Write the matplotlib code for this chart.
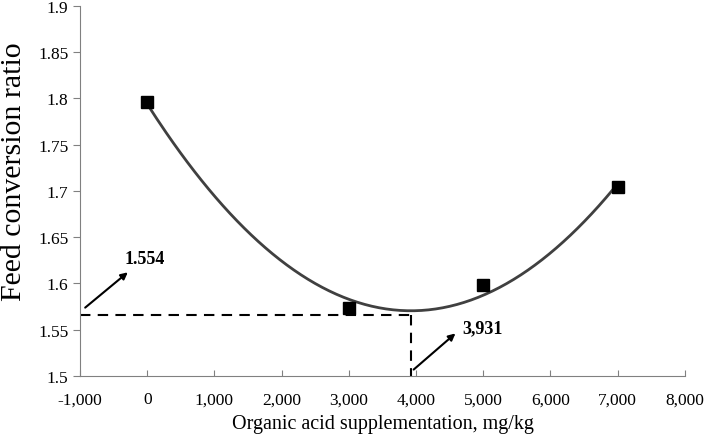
import numpy as np
import matplotlib.pyplot as plt

dose = [0, 3000, 5000, 7000]
fcr = [1.796, 1.574, 1.598, 1.704]
opt_dose = 3931
opt_fcr = 1.566
xticks = list(range(-1000, 8001, 1000))
yticks = [1.5, 1.55, 1.6, 1.65, 1.7, 1.75, 1.8, 1.85, 1.9]

plt.rcParams['font.family'] = ['Liberation Serif', 'DejaVu Serif']

fig = plt.figure(figsize=(7.05, 4.39), dpi=100)
ax = fig.add_axes([0.1135, 0.1412, 0.858, 0.843])

# quadratic trendline
coef = np.polyfit(dose, fcr, 2)
xs = np.linspace(0, 7000, 200)
ax.plot(xs, np.polyval(coef, xs), color='#404040', lw=2, zorder=2)
ax.plot(dose, fcr, 's', color='black', ms=8, zorder=3)

ax.plot([-1000, opt_dose], [opt_fcr, opt_fcr], '--', color='black', lw=1.5, dashes=(5, 3.5))
ax.plot([opt_dose, opt_dose], [opt_fcr, 1.5], '--', color='black', lw=1.5, dashes=(5, 3.5))

ax.annotate('', xy=(-257, 1.614), xytext=(-955, 1.572),
            arrowprops=dict(arrowstyle='-|>', color='black', lw=1.5, mutation_scale=10))
ax.text(-331, 1.627, '1.554', fontsize=13, fontweight='bold', va='center', ha='left')
ax.annotate('', xy=(4617, 1.548), xytext=(3933, 1.505),
            arrowprops=dict(arrowstyle='-|>', color='black', lw=1.5, mutation_scale=10))
ax.text(4691, 1.552, '3,931', fontsize=13, fontweight='bold', va='center', ha='left')

ax.set_xlim(-1000, 8000)
ax.set_ylim(1.5, 1.9)
ax.set_xticks(xticks)
ax.set_xticklabels(['{:,}'.format(v) for v in xticks])
ax.set_yticks(yticks)
ax.set_yticklabels(['{:g}'.format(v) for v in yticks])
ax.tick_params(axis='x', direction='in', length=4, color='#808080', labelsize=12.5, pad=11)
ax.tick_params(axis='y', direction='out', length=5, color='#808080', labelsize=12.5)
for s in ['top', 'right']:
    ax.spines[s].set_visible(False)
for s in ['left', 'bottom']:
    ax.spines[s].set_color('#808080')

ax.set_xlabel('Organic acid supplementation, mg/kg', fontsize=14.5, labelpad=5)
fig.text(0.001, 0.608, 'Feed conversion ratio', fontsize=21.5, rotation=90,
         ha='left', va='center')

fig.savefig('out.png', dpi=100)
